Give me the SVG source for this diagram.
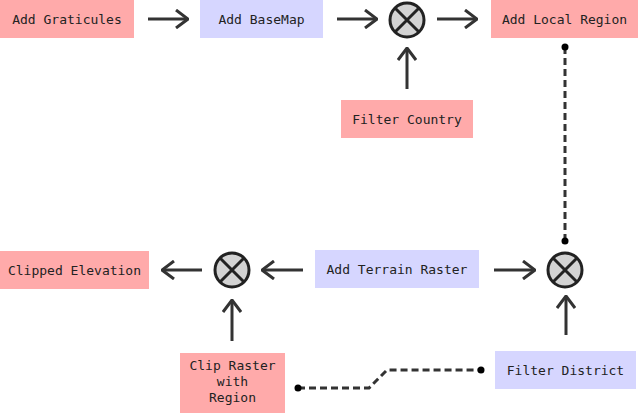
<svg xmlns="http://www.w3.org/2000/svg" width="640" height="420" viewBox="0 0 640 420">
<defs>
<style>
.pink{fill:#FFAAAA}
.blue{fill:#D6D6FF}
text{font-family:"DejaVu Sans Mono","Liberation Mono",monospace;font-size:13px;fill:#222;text-anchor:middle}
.arrow{stroke:#333;stroke-width:3;fill:none}
.dash{stroke:#333;stroke-width:3;fill:none;stroke-dasharray:7 4}
.op circle{fill:#D3D3D3;stroke:#222;stroke-width:3}
.op path{stroke:#222;stroke-width:3;fill:none}
.dot{fill:#000}
</style>
<marker id="ah" viewBox="0 0 14 20" refX="13" refY="10" markerWidth="14" markerHeight="20" markerUnits="userSpaceOnUse" orient="auto">
<path d="M1,1 L13,10 L1,19" fill="none" stroke="#333" stroke-width="3"/>
</marker>
</defs>
<rect width="640" height="420" fill="#fff"/>

<g id="add-graticules"><rect class="pink" x="0" y="0" width="134" height="38"/><text x="67" y="24">Add Graticules</text></g>
<g id="add-basemap"><rect class="blue" x="200" y="0" width="123" height="38"/><text x="261.5" y="24">Add BaseMap</text></g>
<g id="op-top" class="op"><circle cx="407" cy="20" r="17"/><path d="M395,8 L419,32 M419,8 L395,32"/></g>
<g id="add-local-region"><rect class="pink" x="491" y="0" width="147" height="38"/><text x="564.5" y="24">Add Local Region</text></g>
<g id="filter-country"><rect class="pink" x="341" y="100" width="132" height="38"/><text x="407" y="124">Filter Country</text></g>

<g id="clipped-elevation"><rect class="pink" x="0" y="251" width="149" height="38"/><text x="74.5" y="275">Clipped Elevation</text></g>
<g id="op-left" class="op"><circle cx="232" cy="270" r="17"/><path d="M220,258 L244,282 M244,258 L220,282"/></g>
<g id="add-terrain-raster"><rect class="blue" x="315" y="250" width="164" height="38"/><text x="397" y="274">Add Terrain Raster</text></g>
<g id="op-right" class="op"><circle cx="565" cy="270" r="17"/><path d="M553,258 L577,282 M577,258 L553,282"/></g>
<g id="clip-raster"><rect class="pink" x="180" y="353" width="105" height="60"/><text x="232.5" y="370">Clip Raster</text><text x="232.5" y="386">with</text><text x="232.5" y="402">Region</text></g>
<g id="filter-district"><rect class="blue" x="495" y="351" width="141" height="38"/><text x="565.5" y="375">Filter District</text></g>

<g id="connectors">
<line class="arrow" x1="148" y1="19" x2="188" y2="19" marker-end="url(#ah)"/>
<line class="arrow" x1="337" y1="19" x2="377" y2="19" marker-end="url(#ah)"/>
<line class="arrow" x1="437" y1="19" x2="477" y2="19" marker-end="url(#ah)"/>
<line class="arrow" x1="407" y1="89" x2="407" y2="48" marker-end="url(#ah)"/>
<line class="arrow" x1="303" y1="270" x2="262" y2="270" marker-end="url(#ah)"/>
<line class="arrow" x1="202" y1="270" x2="162" y2="270" marker-end="url(#ah)"/>
<line class="arrow" x1="494" y1="270" x2="535" y2="270" marker-end="url(#ah)"/>
<line class="arrow" x1="232" y1="341" x2="232" y2="300" marker-end="url(#ah)"/>
<line class="arrow" x1="566" y1="335" x2="566" y2="296" marker-end="url(#ah)"/>
<path class="dash" d="M565,47 L565,241"/>
<circle class="dot" cx="565" cy="47" r="3.5"/>
<circle class="dot" cx="565" cy="241" r="3.5"/>
<path class="dash" d="M298,388 L369,388 L387,370 L481,370"/>
<circle class="dot" cx="298" cy="388" r="3.5"/>
<circle class="dot" cx="481" cy="370" r="3.5"/>
</g>
</svg>
